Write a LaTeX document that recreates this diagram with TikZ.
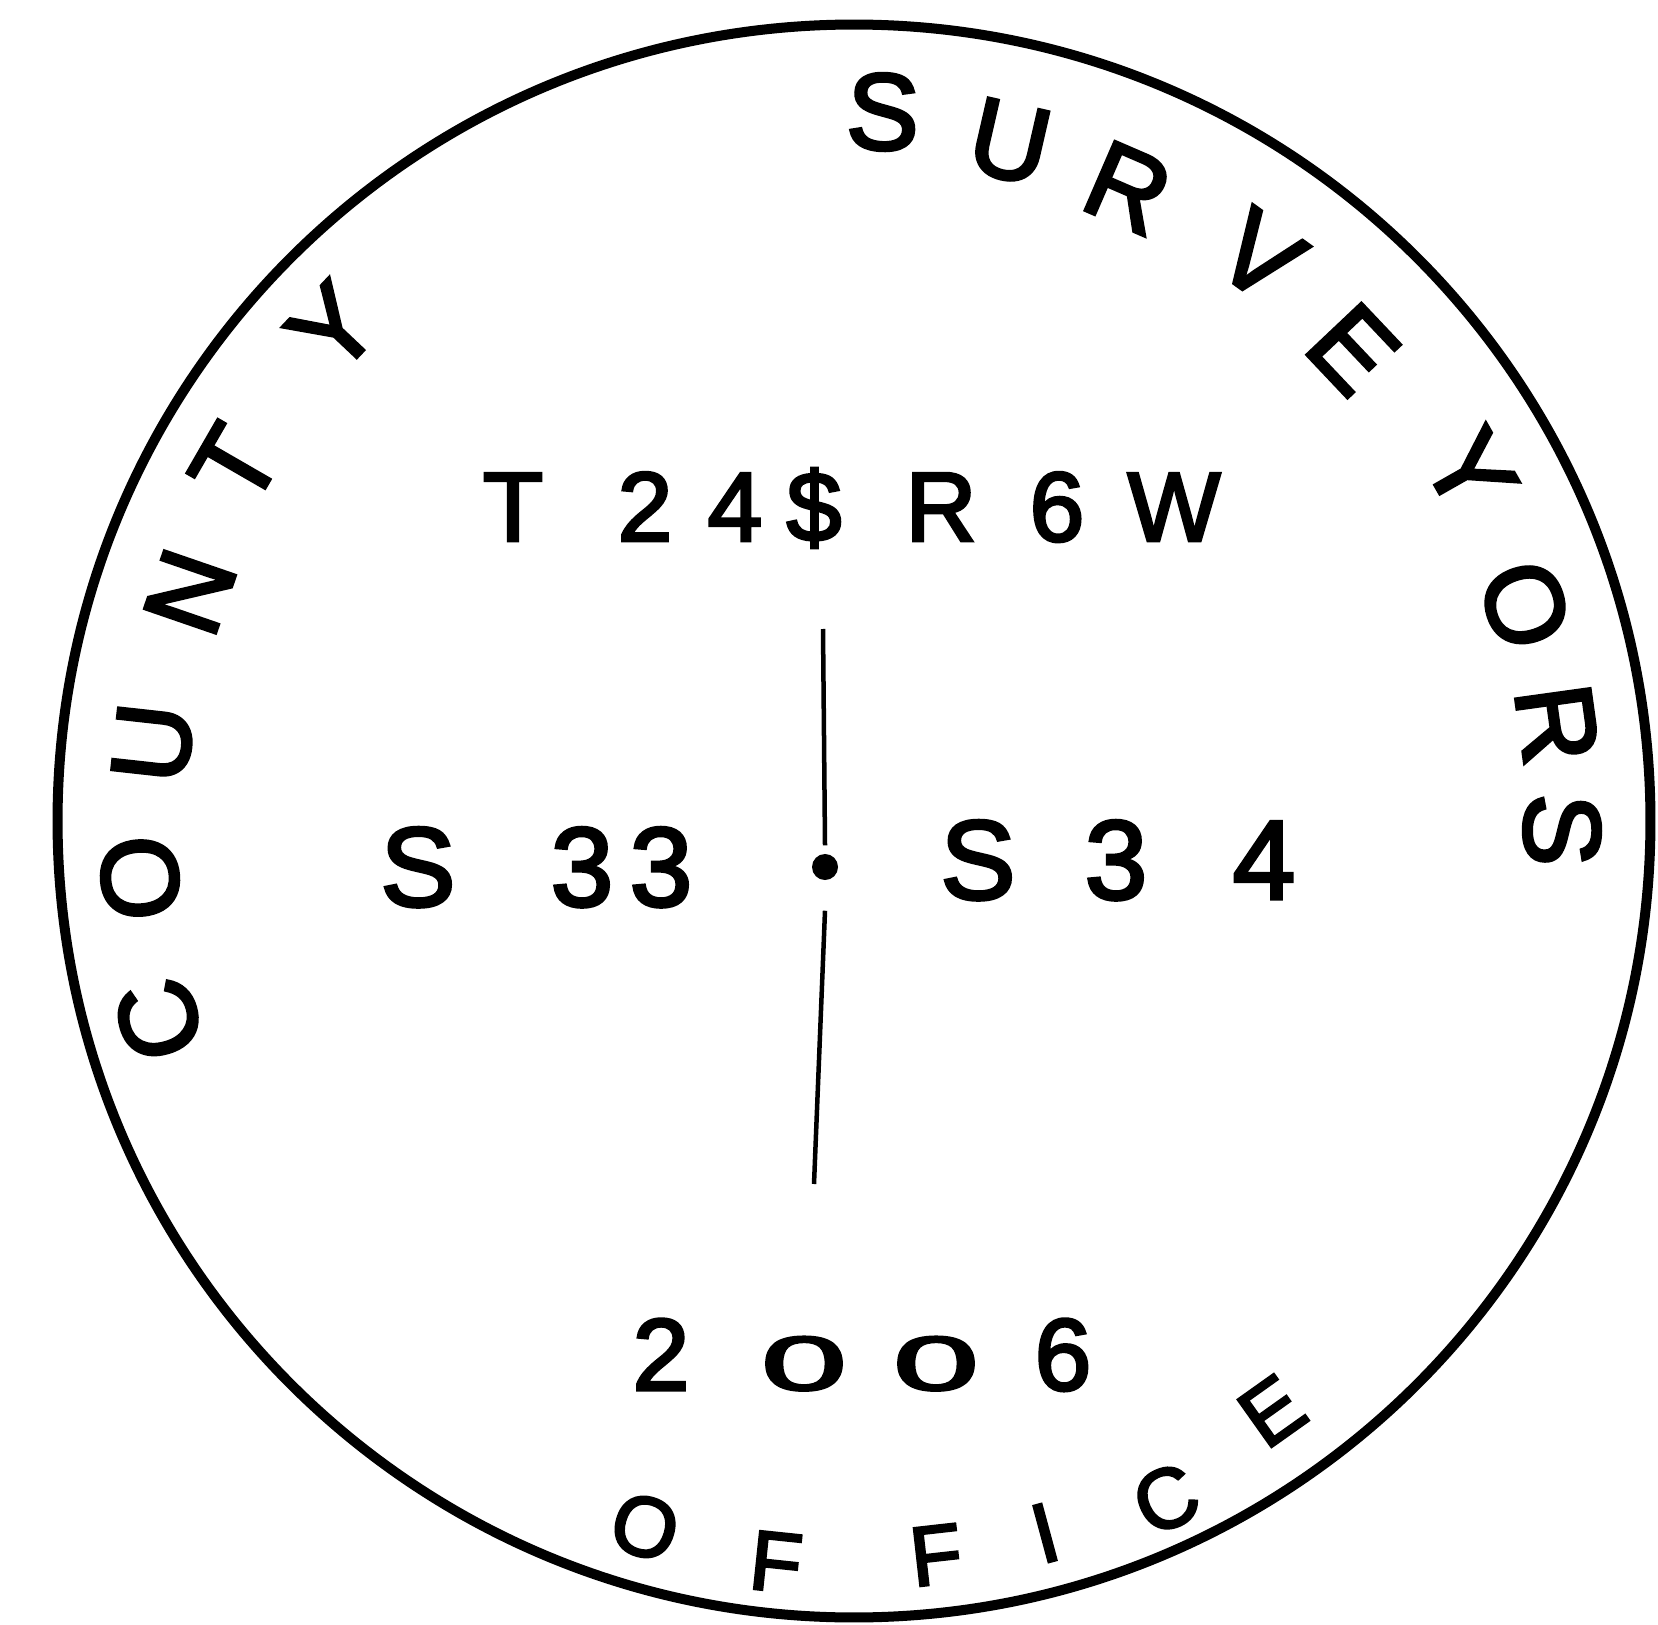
\documentclass[tikz,border=0pt]{standalone}
\usepackage{fontspec}
\setmainfont{Liberation Sans}[BoldFont=Liberation Sans, BoldFeatures={FakeBold=3}]
\begin{document}
\begin{tikzpicture}[x=0.01cm,y=-0.01cm,
  rim/.style={line width=0.1cm},
  rod/.style={line width=0.045cm},
  ringtxt/.style={inner sep=0pt, anchor=center, font=\fontsize{31}{36}\selectfont\bfseries},
  lowtxt/.style={inner sep=0pt, anchor=center, font=\fontsize{24}{29}\selectfont\bfseries},
  midtxt/.style={inner sep=0pt, anchor=base, font=\fontsize{28}{34}\selectfont\bfseries},
  sectxt/.style={inner sep=0pt, anchor=base, font=\fontsize{32}{38}\selectfont\bfseries},
  yeartxt/.style={inner sep=0pt, anchor=base, font=\fontsize{29}{34}\selectfont\bfseries}]
\useasboundingbox (0,0) rectangle (1658,1625);
% seal rim
\node[circle, draw, rim, minimum size=15.92cm, inner sep=0pt] (seal) at (854,821) {};
% COUNTY
\node[ringtxt, rotate=106]  (c1) at (159,1020) {C};
\node[ringtxt, rotate=94.6] (c2) at (140,878)  {O};
\node[ringtxt, rotate=83.7] (c3) at (153,743)  {U};
\node[ringtxt, rotate=71]   (c4) at (190,592)  {N};
\node[ringtxt, rotate=60]   (c5) at (235,465)  {T};
\node[ringtxt, rotate=46.6] (c6) at (333,328)  {Y};
% SURVEYORS
\node[ringtxt, rotate=-2.3]  (s1) at (883,112)  {S};
\node[ringtxt, rotate=-12.9] (s2) at (1010,142) {U};
\node[ringtxt, rotate=-23.4] (s3) at (1128,188) {R};
\node[ringtxt, rotate=-35.7] (s4) at (1260,256) {V};
\node[ringtxt, rotate=-46.6] (s5) at (1353,349) {E};
\node[ringtxt, rotate=-60.4] (s6) at (1470,471) {Y};
\node[ringtxt, rotate=-72.2] (s7) at (1525,605) {O};
\node[ringtxt, rotate=-82.1] (s8) at (1557,724) {R};
\node[ringtxt, rotate=-90.7] (s9) at (1562,830) {S};
% OFFICE
\node[lowtxt, rotate=-16.3] (o1) at (645,1527)  {O};
\node[lowtxt, rotate=-6]    (o2) at (776,1562)  {F};
\node[lowtxt, rotate=6.4]   (o3) at (936,1555)  {F};
\node[lowtxt, rotate=15.1]  (o4) at (1045,1533) {I};
\node[lowtxt, rotate=24.7]  (o5) at (1166,1499) {C};
\node[lowtxt, rotate=35.4]  (o6) at (1272,1411) {E};
% T24$R6W
\node[midtxt] (m1) at (513,541)  {T};
\node[midtxt] (m2) at (645,541)  {2};
\node[midtxt] (m3) at (735,541)  {4};
\node[midtxt] (m4) at (814,541)  {\$};
\node[midtxt] (m5) at (941,541)  {R};
\node[midtxt] (m6) at (1057,541) {6};
\node[midtxt] (m7) at (1174,541) {W};
% S33 . S34
\node[sectxt] (a1) at (418,906)  {S};
\node[sectxt] (a2) at (582,906)  {3};
\node[sectxt] (a3) at (661,906)  {3};
\node[sectxt] (b1) at (978,899)  {S};
\node[sectxt] (b2) at (1116,899) {3};
\node[sectxt] (b3) at (1264,899) {4};
\node[circle, fill, inner sep=0pt, minimum size=0.26cm] (corner) at (825,867) {};
% section line
\coordinate (ltop) at (823,629);
\coordinate (lbot) at (814,1184);
\draw[rod] (ltop) -- ([yshift=0.08cm]corner.north);
\draw[rod] ([yshift=-0.3cm]corner.south) -- (lbot);
% 2006
\node[yeartxt] (y1) at (661,1390)  {2};
\node[yeartxt, xscale=1.5, yscale=0.75] (y2) at (804,1390) {0};
\node[yeartxt, xscale=1.5, yscale=0.75] (y3) at (936,1390) {0};
\node[yeartxt] (y4) at (1063,1390) {6};
\end{tikzpicture}
\end{document}
